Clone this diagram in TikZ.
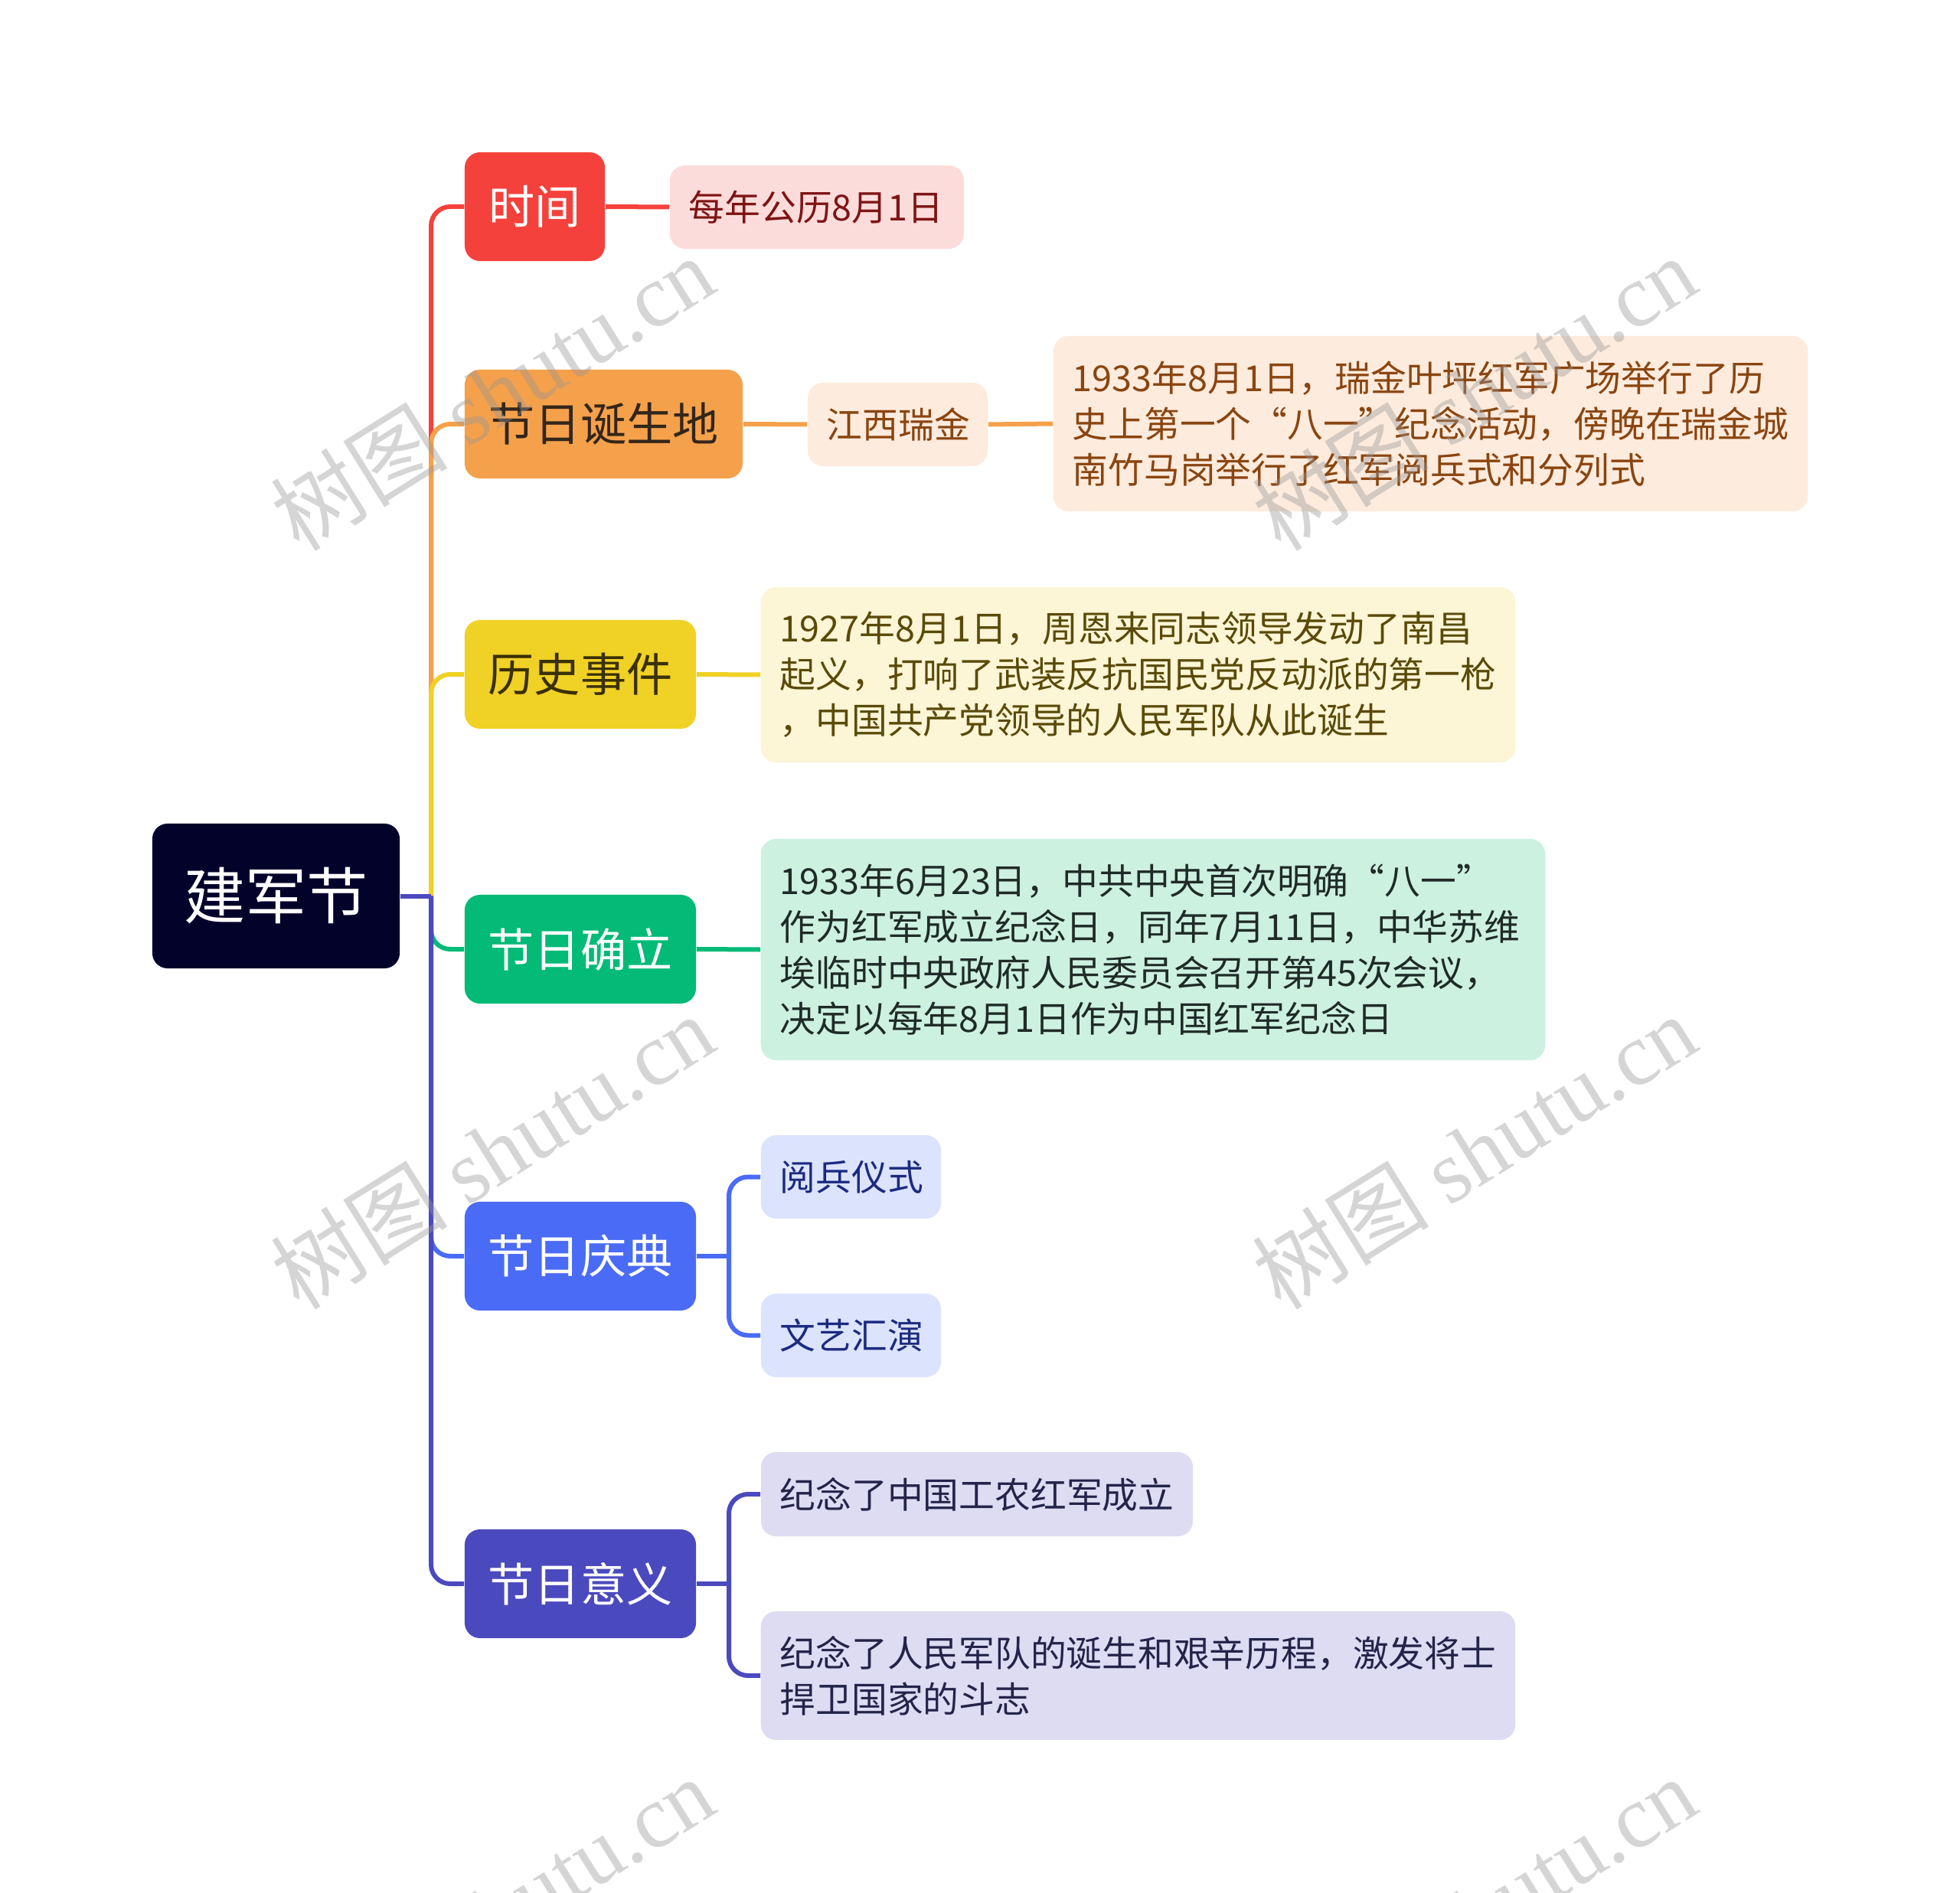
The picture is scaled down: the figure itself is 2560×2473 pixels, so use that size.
\documentclass[tikz,border=0pt]{standalone}
\usepackage{fontspec}
\setmainfont{Noto Sans CJK SC}
\newfontfamily\wmserif{Liberation Serif}
\usetikzlibrary{calc}
\definecolor{rootc}{HTML}{02022B}
\definecolor{redc}{HTML}{F5413C}
\definecolor{redl}{HTML}{FCDCDB}
\definecolor{redt}{HTML}{7E1414}
\definecolor{orgc}{HTML}{F5A14B}
\definecolor{orgl}{HTML}{FDEBDD}
\definecolor{orgt}{HTML}{8A4510}
\definecolor{orgn}{HTML}{33261A}
\definecolor{yelc}{HTML}{F0D125}
\definecolor{yell}{HTML}{FCF5D6}
\definecolor{yelt}{HTML}{5A4A08}
\definecolor{yeln}{HTML}{3A3004}
\definecolor{grnc}{HTML}{03BA76}
\definecolor{grnl}{HTML}{CDF1E1}
\definecolor{grnt}{HTML}{1F2B28}
\definecolor{bluc}{HTML}{4A6BF6}
\definecolor{blul}{HTML}{DCE3FC}
\definecolor{blut}{HTML}{1B2A80}
\definecolor{indc}{HTML}{4B49BE}
\definecolor{indl}{HTML}{DEDCF2}
\definecolor{indt}{HTML}{24234A}
\definecolor{wmc}{HTML}{969696}
\tikzset{
  mainbox/.style={rounded corners=0.2cm, minimum height=1.42cm, inner xsep=0pt, inner ysep=0pt,
    font=\fontsize{17.1}{20}\selectfont, align=center},
  leafbox/.style={rounded corners=0.2cm, inner xsep=0.25cm, inner ysep=0pt,
    font=\fontsize{13.3}{17.07}\selectfont, align=left},
  conn/.style={line width=0.06cm, rounded corners=0.25cm},
  wm/.style={text=wmc, opacity=0.4, rotate=32, font=\fontsize{33}{37}\selectfont, inner sep=0pt}
}
\begin{document}
\begin{tikzpicture}[x=0.01cm, y=-0.01cm]
\useasboundingbox (0,0) rectangle (2560,2473);
% root
\node[mainbox, fill=rootc, text=white, minimum width=3.23cm, minimum height=1.89cm,
  font=\fontsize{22.8}{26}\selectfont] (root) at (360.5,1170.5) {建军节};
% main nodes
\node[mainbox, fill=redc, text=white, minimum width=1.83cm] (n1) at (698.5,270) {时间};
\node[mainbox, fill=orgc, text=orgn, minimum width=3.63cm] (n2) at (788.5,554) {节日诞生地};
\node[mainbox, fill=yelc, text=yeln, minimum width=3.02cm] (n3) at (758,881) {历史事件};
\node[mainbox, fill=grnc, text=white, minimum width=3.02cm] (n4) at (758,1240) {节日确立};
\node[mainbox, fill=bluc, text=white, minimum width=3.02cm] (n5) at (758,1641) {节日庆典};
\node[mainbox, fill=indc, text=white, minimum width=3.02cm] (n6) at (758,2069) {节日意义};
% leaves
\node[leafbox, fill=redl, text=redt, text width=3.34cm, minimum height=1.09cm] (l1) at (1067,270.5) {每年公历8月1日};
\node[leafbox, fill=orgl, text=orgt, text width=1.85cm, minimum height=1.09cm] (l2a) at (1172.5,554.5) {江西瑞金};
\node[leafbox, fill=orgl, text=orgt, text width=9.35cm, minimum height=2.29cm] (l2b) at (1868.5,553.5)
  {1933年8月1日，瑞金叶坪红军广场举行了历\\史上第一个“八一”纪念活动，傍晚在瑞金城\\南竹马岗举行了红军阅兵式和分列式};
\node[leafbox, fill=yell, text=yelt, text width=9.35cm, minimum height=2.29cm] (l3) at (1486.5,881.5)
  {1927年8月1日，周恩来同志领导发动了南昌\\起义，打响了武装反抗国民党反动派的第一枪\\，中国共产党领导的人民军队从此诞生};
\node[leafbox, fill=grnl, text=grnt, text width=9.74cm, minimum height=2.89cm] (l4) at (1506,1240.5)
  {1933年6月23日，中共中央首次明确“八一”\\作为红军成立纪念日，同年7月11日，中华苏维\\埃临时中央政府人民委员会召开第45次会议，\\决定以每年8月1日作为中国红军纪念日};
\node[leafbox, fill=blul, text=blut, text width=1.85cm, minimum height=1.09cm] (l5a) at (1111.5,1537.5) {阅兵仪式};
\node[leafbox, fill=blul, text=blut, text width=1.85cm, minimum height=1.09cm] (l5b) at (1111.5,1744.5) {文艺汇演};
\node[leafbox, fill=indl, text=indt, text width=5.14cm, minimum height=1.10cm] (l6a) at (1276,1952) {纪念了中国工农红军成立};
\node[leafbox, fill=indl, text=indt, text width=9.35cm, minimum height=1.68cm] (l6b) at (1486.5,2189)
  {纪念了人民军队的诞生和艰辛历程，激发将士\\捍卫国家的斗志};
% connectors from root
\coordinate (hub) at (563,1170.5);
\draw[conn, redc] (hub) |- (n1.west);
\draw[conn, orgc] (hub) |- (n2.west);
\draw[conn, yelc] (hub) |- (n3.west);
\draw[conn, grnc] (hub) |- (n4.west);
\draw[conn, bluc] (hub) |- (n5.west);
\draw[conn, indc] (hub) |- (n6.west);
\draw[conn, indc] (root.east) -- (hub);
% leaf connectors
\draw[conn, redc] (n1.east) -- (l1.west);
\draw[conn, orgc] (n2.east) -- (l2a.west);
\draw[conn, orgc] (l2a.east) -- (l2b.west);
\draw[conn, yelc] (n3.east) -- (l3.west);
\draw[conn, grnc] (n4.east) -- (l4.west);
\coordinate (h5) at (952,1641);
\draw[conn, bluc] (n5.east) -- (h5);
\draw[conn, bluc] (h5) |- (l5a.west);
\draw[conn, bluc] (h5) |- (l5b.west);
\coordinate (h6) at (952,2069);
\draw[conn, indc] (n6.east) -- (h6);
\draw[conn, indc] (h6) |- (l6a.west);
\draw[conn, indc] (h6) |- (l6b.west);
% watermarks
\node[wm] (w1) at (643,513) {树图 {\wmserif shutu.cn}};
\node[wm] (w2) at (1925,513) {树图 {\wmserif shutu.cn}};
\node[wm] (w3) at (643,1504) {树图 {\wmserif shutu.cn}};
\node[wm] (w4) at (1925,1504) {树图 {\wmserif shutu.cn}};
\begin{scope}
\clip (0,0) rectangle (2560,2473);
\node[wm] (w5) at (643,2500) {树图 {\wmserif shutu.cn}};
\node[wm] (w6) at (1925,2500) {树图 {\wmserif shutu.cn}};
\end{scope}
\end{tikzpicture}
\end{document}
